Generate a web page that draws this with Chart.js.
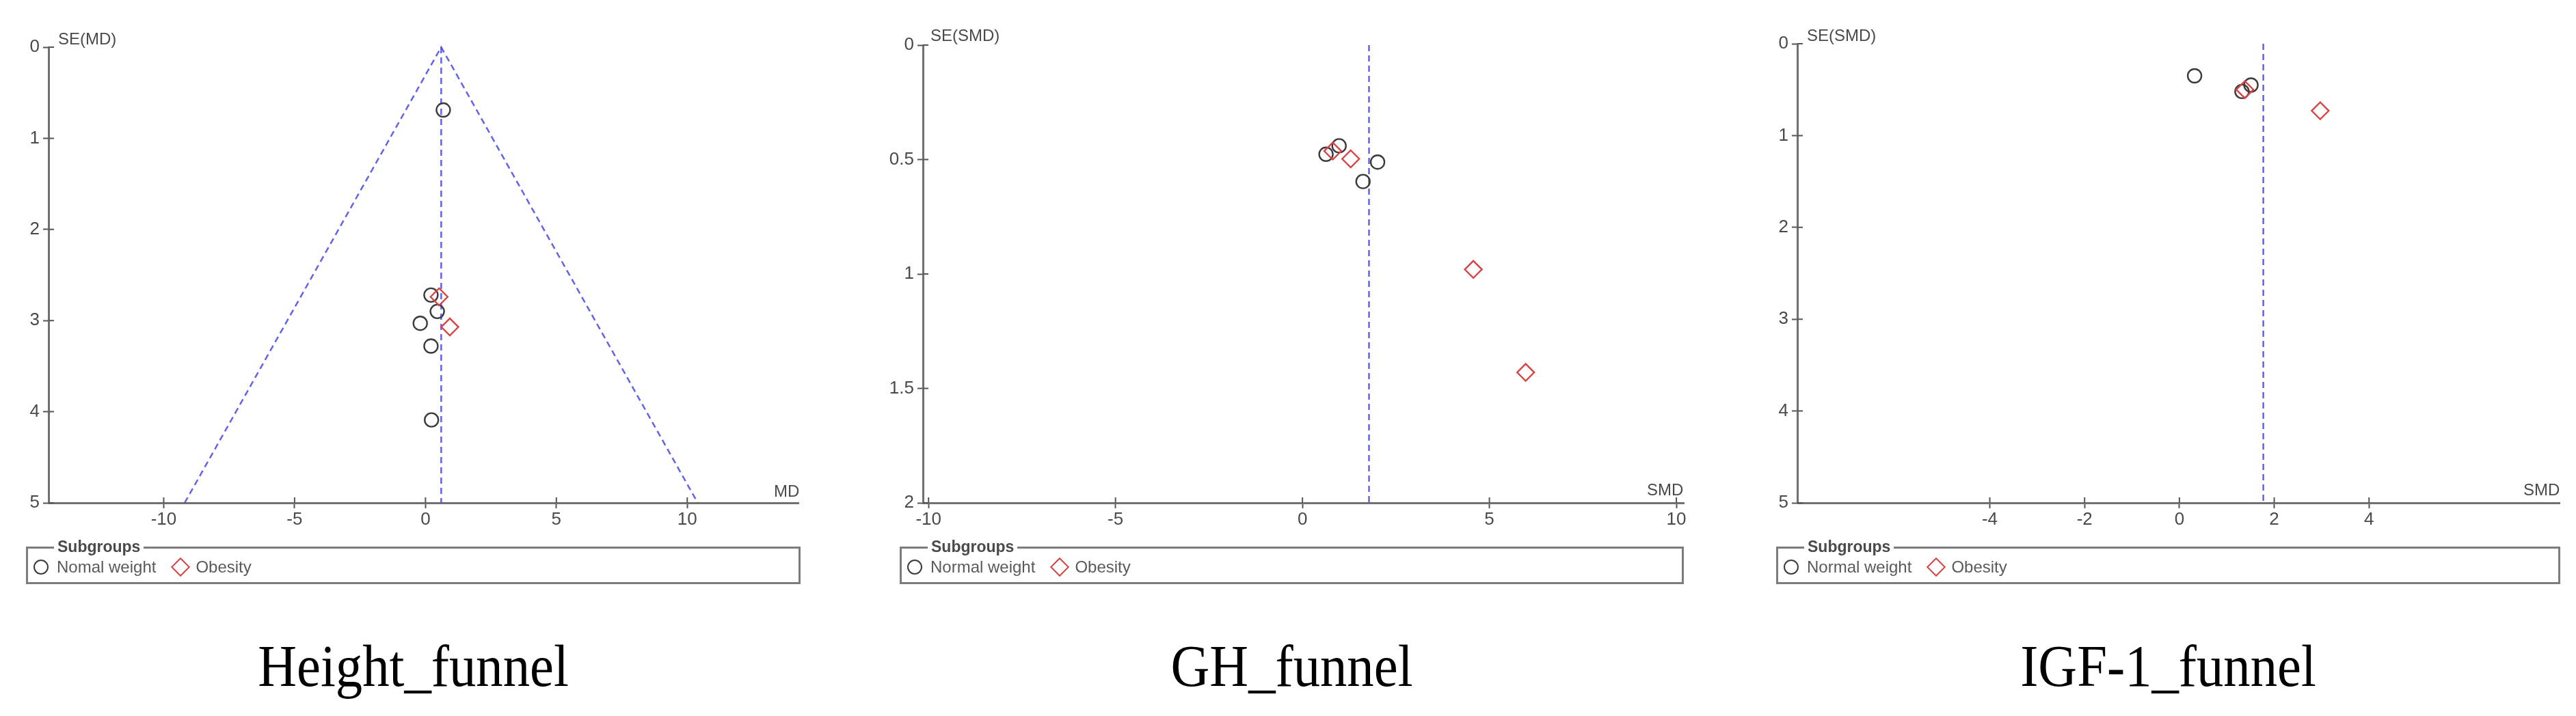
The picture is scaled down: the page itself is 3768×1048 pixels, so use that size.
<!DOCTYPE html>
<html>
<head>
<meta charset="utf-8">
<title>Funnel plots</title>
<script src="https://cdn.jsdelivr.net/npm/chart.js@4.4.1/dist/chart.umd.min.js"></script>
<style>
  html, body { margin: 0; padding: 0; background: #fff; }
  body { position: relative; width: 3768px; height: 1048px; overflow: hidden; }
  .panel-canvas { position: absolute; top: 0; }
  .ax {
    position: absolute; font: 24px 'Liberation Sans Narrow', 'Liberation Sans', Arial, sans-serif;
    line-height: 24px; color: #4a4a4a; white-space: nowrap;
  }
  .legend-box {
    position: absolute; top: 800px; height: 55px; box-sizing: border-box;
    border: 3px solid #7c7c7c;
  }
  .legend-title {
    position: absolute; left: 38px; top: -14px; padding: 0 5px; background: #fff;
    font: bold 23px 'Liberation Sans', Arial, sans-serif; line-height: 23px; color: #4a4a4a;
  }
  .legend-row {
    position: absolute; left: 8px; top: 12px; display: flex; align-items: center;
    font: 24px 'Liberation Sans', Arial, sans-serif; color: #5a5a5a; height: 30px;
  }
  .mk-circle {
    width: 18px; height: 18px; border: 2px solid #3c3c3c; border-radius: 50%;
  }
  .mk-diamond {
    width: 16px; height: 16px; border: 2.5px solid #d64545; transform: rotate(45deg);
    margin-left: 26px;
  }
  .legend-row .lbl1 { margin-left: 12px; }
  .legend-row .lbl2 { margin-left: 12px; }
  .caption {
    position: absolute; top: 932px; text-align: center;
    font: 86px 'Liberation Serif', 'Times New Roman', serif; line-height: 86px; color: #000;
    transform: scaleX(0.915);
  }
</style>
</head>
<body>

<canvas id="heightChart" class="panel-canvas" style="left:0px" width="1200" height="790"></canvas>
<canvas id="ghChart" class="panel-canvas" style="left:1250px" width="1250" height="790"></canvas>
<canvas id="igfChart" class="panel-canvas" style="left:2530px" width="1238" height="790"></canvas>

<div class="ax" style="left:85px; top:45px">SE(MD)</div>
<div class="ax" style="left:1132px; top:707px">MD</div>
<div class="ax" style="left:1361px; top:40px">SE(SMD)</div>
<div class="ax" style="left:2409px; top:705px">SMD</div>
<div class="ax" style="left:2643px; top:40px">SE(SMD)</div>
<div class="ax" style="left:3691px; top:705px">SMD</div>

<div class="legend-box" style="left:38px; width:1133px">
  <span class="legend-title">Subgroups</span>
  <div class="legend-row"><span class="mk-circle"></span><span class="lbl1">Nomal weight</span><span class="mk-diamond"></span><span class="lbl2">Obesity</span></div>
</div>
<div class="legend-box" style="left:1316px; width:1147px">
  <span class="legend-title">Subgroups</span>
  <div class="legend-row"><span class="mk-circle"></span><span class="lbl1">Normal weight</span><span class="mk-diamond"></span><span class="lbl2">Obesity</span></div>
</div>
<div class="legend-box" style="left:2598px; width:1147px">
  <span class="legend-title">Subgroups</span>
  <div class="legend-row"><span class="mk-circle"></span><span class="lbl1">Normal weight</span><span class="mk-diamond"></span><span class="lbl2">Obesity</span></div>
</div>

<div class="caption" style="left:38px; width:1133px">Height_funnel</div>
<div class="caption" style="left:1316px; width:1147px">GH_funnel</div>
<div class="caption" style="left:2598px; width:1147px">IGF-1_funnel</div>

<script>
// Height (MD)
const heightNormalMD = [0.68, 0.21, 0.45, -0.20, 0.21, 0.23];
const heightNormalSE = [0.69, 2.72, 2.90, 3.03, 3.28, 4.09];
const heightObesityMD = [0.52, 0.93];
const heightObesitySE = [2.74, 3.07];
const heightPooled = 0.6;
const heightFunnelX = [-9.2, 0.6, 10.4];
const heightFunnelSE = [5, 0, 5];
const heightXTicks = [-10, -5, 0, 5, 10];
const heightYTicks = [0, 1, 2, 3, 4, 5];

// GH (SMD)
const ghNormalSMD = [0.63, 0.98, 1.62, 2.01];
const ghNormalSE = [0.477, 0.44, 0.596, 0.511];
const ghObesitySMD = [0.81, 1.29, 4.57, 5.97];
const ghObesitySE = [0.463, 0.497, 0.98, 1.43];
const ghPooled = 1.78;
const ghXTicks = [-10, -5, 0, 5, 10];
const ghYTicks = [0, 0.5, 1, 1.5, 2];

// IGF-1 (SMD)
const igfNormalSMD = [0.32, 1.32, 1.51];
const igfNormalSE = [0.35, 0.52, 0.45];
const igfObesitySMD = [1.38, 2.97];
const igfObesitySE = [0.50, 0.73];
const igfPooled = 1.77;
const igfXTicks = [-4, -2, 0, 2, 4];
const igfYTicks = [0, 1, 2, 3, 4, 5];

const tickFont = { family: "'Liberation Sans Narrow', 'Liberation Sans', Arial, sans-serif", size: 26 };
const blueDash = 'rgba(70, 70, 230, 0.85)';

// ticks cross the axis line, draw the inner half
const crossTicks = {
  id: 'crossTicks',
  afterDraw(chart) {
    const { ctx, chartArea: a, scales: { x, y } } = chart;
    ctx.save();
    ctx.strokeStyle = '#555';
    ctx.lineWidth = 2;
    ctx.beginPath();
    x.ticks.forEach(t => {
      const px = x.getPixelForValue(t.value);
      ctx.moveTo(px, a.bottom);
      ctx.lineTo(px, a.bottom - 8);
    });
    y.ticks.forEach(t => {
      const py = y.getPixelForValue(t.value);
      ctx.moveTo(a.left, py);
      ctx.lineTo(a.left + 8, py);
    });
    ctx.stroke();
    ctx.restore();
  }
};

const toPoints = (xs, ys) => xs.map((v, i) => ({ x: v, y: ys[i] }));

function makeFunnel(id, o) {
  const datasets = [];
  if (o.funnelX) {
    datasets.push({
      type: 'line', data: toPoints(o.funnelX, o.funnelSE), showLine: true,
      borderColor: blueDash, borderWidth: 2.5, borderDash: [9, 6],
      pointRadius: 0, fill: false, order: 3, clip: false
    });
  }
  datasets.push({
    type: 'line', data: toPoints([o.pooled, o.pooled], [0, o.yMax]), showLine: true,
    borderColor: blueDash, borderWidth: 2.5, borderDash: [9, 6],
    pointRadius: 0, fill: false, order: 3, clip: false
  });
  datasets.push({
    label: 'Normal weight', data: toPoints(o.normX, o.normY),
    pointStyle: 'circle', pointRadius: 10, pointHoverRadius: 10,
    borderColor: '#3c3c3c', backgroundColor: 'rgba(0,0,0,0)', borderWidth: 2.4,
    order: 2, clip: false
  });
  datasets.push({
    label: 'Obesity', data: toPoints(o.obX, o.obY),
    pointStyle: 'rectRot', pointRadius: 12.5, pointHoverRadius: 12.5,
    borderColor: '#d64545', backgroundColor: 'rgba(0,0,0,0)', borderWidth: 2.4,
    order: 1, clip: false
  });

  new Chart(document.getElementById(id), {
    type: 'scatter',
    data: { datasets },
    plugins: [crossTicks],
    options: {
      responsive: false,
      animation: false,
      events: [],
      layout: { padding: { top: o.padTop, right: o.padRight, left: 0, bottom: 0 } },
      plugins: { legend: { display: false }, tooltip: { enabled: false } },
      scales: {
        x: {
          type: 'linear', min: o.xMin, max: o.xMax,
          afterBuildTicks: s => { s.ticks = o.xTicks.map(v => ({ value: v })); },
          afterFit: s => { s.height = 54; },
          grid: { drawOnChartArea: false, drawTicks: true, tickLength: 8, tickWidth: 2, tickColor: '#555' },
          border: { display: true, color: '#707070', width: 3 },
          ticks: { font: tickFont, color: '#4a4a4a', padding: 1, maxRotation: 0, callback: v => String(v) }
        },
        y: {
          type: 'linear', reverse: true, min: 0, max: o.yMax,
          afterBuildTicks: s => { s.ticks = o.yTicks.map(v => ({ value: v })); },
          afterFit: s => { s.width = o.yWidth; },
          grid: { drawOnChartArea: false, drawTicks: true, tickLength: 8, tickWidth: 2, tickColor: '#555' },
          border: { display: true, color: '#707070', width: 3 },
          ticks: { font: tickFont, color: '#4a4a4a', padding: 5, callback: v => String(v) }
        }
      }
    }
  });
}

makeFunnel('heightChart', {
  normX: heightNormalMD, normY: heightNormalSE, obX: heightObesityMD, obY: heightObesitySE,
  pooled: heightPooled, funnelX: heightFunnelX, funnelSE: heightFunnelSE,
  xTicks: heightXTicks, yTicks: heightYTicks, xMin: -14.4, xMax: 14.25, yMax: 5,
  yWidth: 71, padTop: 69, padRight: 32
});
makeFunnel('ghChart', {
  normX: ghNormalSMD, normY: ghNormalSE, obX: ghObesitySMD, obY: ghObesitySE,
  pooled: ghPooled, xTicks: ghXTicks, yTicks: ghYTicks, xMin: -10.15, xMax: 10.2, yMax: 2,
  yWidth: 100, padTop: 66, padRight: 37
});
makeFunnel('igfChart', {
  normX: igfNormalSMD, normY: igfNormalSE, obX: igfObesitySMD, obY: igfObesitySE,
  pooled: igfPooled, xTicks: igfXTicks, yTicks: igfYTicks, xMin: -8.06, xMax: 8.02, yMax: 5,
  yWidth: 99, padTop: 64, padRight: 24
});
</script>
</body>
</html>
